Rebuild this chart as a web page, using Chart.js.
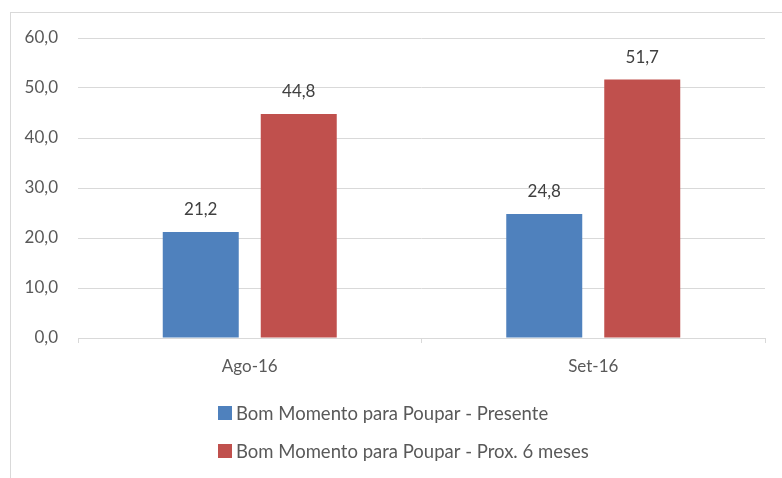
<!DOCTYPE html>
<html>
<head>
<meta charset="utf-8">
<script src="https://cdn.jsdelivr.net/npm/chart.js@4"></script>
<style>
  html, body { margin: 0; padding: 0; background: #fff; }
  #wrap { position: relative; width: 782px; height: 478px; overflow: hidden; }
  #frame { position: absolute; left: 10px; top: 12px; width: 800px; height: 500px;
           border-left: 1px solid #d9d9d9; border-top: 1px solid #d9d9d9; }
  canvas { position: absolute; left: 0; top: 0; }
</style>
</head>
<body>
<div id="wrap">
  <div id="frame"></div>
  <canvas id="chart" width="782" height="478"></canvas>
</div>
<script>
// DATA
const categories = ["Ago-16", "Set-16"];
const presente = [21.2, 24.8];
const prox6 = [44.8, 51.7];
const seriesNames = ["Bom Momento para Poupar - Presente", "Bom Momento para Poupar - Prox. 6 meses"];

const FONT = "Lato";
const fmt = v => v.toFixed(1).replace(".", ",");

// VALUE LABELS ABOVE BARS
const valueLabels = {
  id: "valueLabels",
  afterDatasetsDraw(chart) {
    const ctx = chart.ctx;
    ctx.save();
    ctx.font = "17px " + FONT;
    ctx.fillStyle = "#404040";
    ctx.textAlign = "center";
    ctx.textBaseline = "middle";
    chart.data.datasets.forEach((ds, i) => {
      chart.getDatasetMeta(i).data.forEach((bar, j) => {
        ctx.fillText(fmt(ds.data[j]), bar.x, bar.y - 22);
      });
    });
    ctx.restore();
  }
};

// VERTICAL LEGEND, LEFT ALIGNED
const stackedLegend = {
  id: "stackedLegend",
  afterDraw(chart) {
    const ctx = chart.ctx;
    ctx.save();
    ctx.font = "18.5px " + FONT;
    ctx.textBaseline = "middle";
    const left = 218;
    const rows = [413, 451];
    chart.data.datasets.forEach((ds, i) => {
      ctx.fillStyle = ds.backgroundColor;
      ctx.fillRect(left, rows[i] - 7, 14, 14);
      ctx.fillStyle = "#595959";
      ctx.fillText(ds.label, left + 18, rows[i] + 1);
    });
    ctx.restore();
  }
};

new Chart(document.getElementById("chart"), {
  type: "bar",
  data: {
    labels: categories,
    datasets: [
      { label: seriesNames[0], data: presente, backgroundColor: "#4f81bd" },
      { label: seriesNames[1], data: prox6, backgroundColor: "#c0504d" }
    ]
  },
  options: {
    responsive: false,
    animation: false,
    categoryPercentage: 0.5706,
    barPercentage: 0.7755,
    layout: { padding: { top: 38, right: 17, left: 0, bottom: 0 } },
    plugins: {
      legend: { display: false },
      tooltip: { enabled: false }
    },
    scales: {
      x: {
        afterFit: s => { s.height = 140; },
        grid: {
          drawOnChartArea: false,
          drawTicks: true,
          tickLength: 5,
          color: "#d9d9d9"
        },
        border: { color: "#d9d9d9" },
        ticks: {
          color: "#595959",
          padding: 13,
          font: { size: 17, family: FONT }
        }
      },
      y: {
        min: 0,
        max: 60,
        afterFit: s => { s.width = 78; },
        grid: { color: "#d9d9d9", drawTicks: false },
        border: { display: false },
        ticks: {
          stepSize: 10,
          padding: 20,
          color: "#595959",
          font: { size: 17, family: FONT },
          callback: v => fmt(v)
        }
      }
    }
  },
  plugins: [valueLabels, stackedLegend]
});
</script>
</body>
</html>
